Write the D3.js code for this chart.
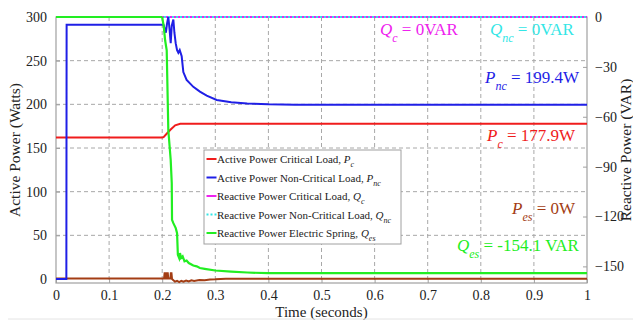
<!DOCTYPE html>
<html>
<head>
<meta charset="utf-8">
<script src="https://cdn.jsdelivr.net/npm/d3@7"></script>
<style>
  body { margin: 0; background: #fff; }
</style>
</head>
<body>
<svg id="chart" width="633" height="320"></svg>
<script>
'use strict';

// tick values
const timeTicks = [0, 0.1, 0.2, 0.3, 0.4, 0.5, 0.6, 0.7, 0.8, 0.9, 1];
const timeTickLabels = ['0', '0.1', '0.2', '0.3', '0.4', '0.5', '0.6', '0.7', '0.8', '0.9', '1'];
const wattTicks = [0, 50, 100, 150, 200, 250, 300];
const varTicks = [0, -30, -60, -90, -120, -150];

// P_c, critical load (W)
const pcTime = [0, 0.2, 0.2025, 0.208, 0.215, 0.2244, 0.234, 0.26, 0.3, 1];
const pcWatts = [162, 162, 162.5, 166, 170.6, 176, 177.7, 177.8, 177.9, 177.9];

// P_nc, non-critical load (W)
const pncTime = [0, 0.0195, 0.02, 0.2025, 0.205, 0.207, 0.209, 0.2115, 0.214, 0.216, 0.218, 0.221, 0.223, 0.2254,
  0.228, 0.2304, 0.233, 0.2367, 0.2398, 0.246, 0.2586, 0.271, 0.2838, 0.3026, 0.33, 0.36, 0.4, 0.45, 0.5, 1];
const pncWatts = [0, 0, 291, 291, 286, 282, 292, 300, 285, 270, 290, 297, 282, 270,
  262, 259, 262, 255, 237, 228, 220, 214.5, 210, 205, 202.5, 201, 200, 199.6, 199.4, 199.4];

// P_es, electric spring (W)
const pesTime = [0, 0.2, 0.2035, 0.2045, 0.206, 0.207, 0.2085, 0.2092, 0.2105, 0.2115, 0.2155, 0.2162, 0.2175, 0.2185,
  0.224, 0.228, 0.232, 0.236, 0.24, 0.245, 0.25, 0.255, 0.26, 0.27, 0.28, 0.29, 0.3, 0.32, 1];
const pesWatts = [0.5, 0.5, 0.5, 6.5, 6.5, 0.5, 0.5, 6.5, 6.5, 0.5, 0.5, 6.5, 6.5, 0,
  -3, -2, -3.5, -2, -3, -1.8, -2.8, -1.5, -2.2, -1.2, -1.5, -0.6, -0.4, 0.3, 0.3];

// Q_c and Q_nc (VAR)
const qcTime = [0, 1];
const qcVar = [0, 0];
const qncTime = [0, 1];
const qncVar = [0, 0];

// Q_es, electric spring (VAR)
const qesTime = [0, 0.2, 0.203, 0.2055, 0.2085, 0.2115, 0.216, 0.218, 0.2185, 0.221, 0.2255, 0.228, 0.2295, 0.232,
  0.2335, 0.2355, 0.2385, 0.242, 0.246, 0.25, 0.2586, 0.265, 0.271, 0.28, 0.3, 0.33, 0.36, 0.4, 0.5, 1];
const qesVar = [0, 0, -6, -14, -20, -68, -86, -100, -122, -124, -127, -130, -143, -145,
  -142, -145, -144, -147, -146.5, -148, -149.5, -150, -151, -151.5, -152.5, -153.2, -153.7, -154.1, -154.1, -154.1];

const red = '#f01c1c';
const blue = '#1f1fe6';
const magenta = '#ee22ee';
const cyan = '#33e6e6';
const green = '#22ee22';
const brown = '#a33d14';
const serif = '"Liberation Serif", "DejaVu Serif", "Times New Roman", serif';

const svg = d3.select('#chart').attr('font-family', serif);
const plotLeft = 56, plotRight = 587, plotTop = 17, plotBottom = 283;

const x = d3.scaleLinear().domain([0, 1]).range([plotLeft, plotRight]);
const yW = d3.scaleLinear().domain([0, 300]).range([279, plotTop]);
const yQ = d3.scaleLinear().domain([-160, 0]).range([plotBottom, plotTop]);

const zip = (ts, vs) => ts.map((t, i) => [t, vs[i]]);

// grid
const grid = svg.append('g').attr('stroke', '#a8a8a8').attr('stroke-dasharray', '4,3').attr('stroke-width', 1);
grid.selectAll('.vg').data(timeTicks.slice(1, -1)).enter().append('line')
  .attr('x1', d => x(d)).attr('x2', d => x(d)).attr('y1', plotTop).attr('y2', plotBottom);
grid.selectAll('.hg').data(wattTicks.slice(1, -1)).enter().append('line')
  .attr('x1', plotLeft).attr('x2', plotRight).attr('y1', d => yW(d)).attr('y2', d => yW(d));

// frame
svg.append('rect')
  .attr('x', plotLeft).attr('y', plotTop).attr('width', plotRight - plotLeft).attr('height', plotBottom - plotTop)
  .attr('fill', 'none').attr('stroke', '#a0a0a0').attr('stroke-width', 1.2);

// axes
const axisB = svg.append('g').attr('transform', `translate(0,${plotBottom})`)
  .call(d3.axisBottom(x).tickValues(timeTicks).tickFormat((d, i) => timeTickLabels[i]).tickSize(-4).tickPadding(7));
const axisL = svg.append('g').attr('transform', `translate(${plotLeft},0)`)
  .call(d3.axisLeft(yW).tickValues(wattTicks).tickSize(-4).tickPadding(9));
const axisR = svg.append('g').attr('transform', `translate(${plotRight},0)`)
  .call(d3.axisRight(yQ).tickValues(varTicks).tickSize(-4).tickPadding(8));
[axisB, axisL, axisR].forEach(a => {
  a.attr('font-family', serif).attr('font-size', 14);
  a.select('.domain').remove();
  a.selectAll('line').attr('stroke', '#a0a0a0');
  a.selectAll('text').attr('fill', '#222');
});

// axis titles
svg.append('text').attr('x', (plotLeft + plotRight) / 2).attr('y', 317).attr('text-anchor', 'middle')
  .attr('font-size', 15).attr('fill', '#222').text('Time (seconds)');
svg.append('text').attr('transform', `translate(20,${(plotTop + plotBottom) / 2}) rotate(-90)`).attr('text-anchor', 'middle')
  .attr('font-size', 15.5).attr('fill', '#222').text('Active Power (Watts)');
svg.append('text').attr('transform', `translate(631,${(plotTop + plotBottom) / 2}) rotate(-90)`).attr('text-anchor', 'middle')
  .attr('font-size', 15.5).attr('fill', '#222').text('Reactive Power (VAR)');

// series
const lineW = d3.line().x(d => x(d[0])).y(d => yW(d[1]));
const lineQ = d3.line().x(d => x(d[0])).y(d => yQ(d[1]));
const draw = (pts, gen, colour, width, dash) => svg.append('path')
  .attr('d', gen(pts)).attr('fill', 'none').attr('stroke', colour)
  .attr('stroke-width', width).attr('stroke-dasharray', dash || null);

draw(zip(pesTime, pesWatts), lineW, brown, 2);
draw(zip(qcTime, qcVar), lineQ, magenta, 2);
draw(zip(qncTime, qncVar), lineQ, cyan, 2, '2,2');
draw(zip(pcTime, pcWatts), lineW, red, 2);
draw(zip(qesTime.slice(0, 2), qesVar.slice(0, 2)), lineQ, green, 2.2);
draw(zip(pncTime, pncWatts), lineW, blue, 2);
draw(zip(qesTime.slice(1), qesVar.slice(1)), lineQ, green, 2.2);

// legend
const legendItems = [
  { name: 'Active Power Critical Load, ', sym: 'P', sub: 'c', colour: red, dash: null },
  { name: 'Active Power Non-Critical Load, ', sym: 'P', sub: 'nc', colour: blue, dash: null },
  { name: 'Reactive Power Critical Load, ', sym: 'Q', sub: 'c', colour: magenta, dash: null },
  { name: 'Reactive Power Non-Critical Load, ', sym: 'Q', sub: 'nc', colour: cyan, dash: '2,2' },
  { name: 'Reactive Power Electric Spring, ', sym: 'Q', sub: 'es', colour: green, dash: null }
];
const lg = svg.append('g').attr('transform', 'translate(204,150)');
lg.append('rect').attr('width', 197).attr('height', 94).attr('fill', '#fff')
  .attr('stroke', '#a0a0a0').attr('stroke-width', 1);
const rows = lg.selectAll('.row').data(legendItems).enter().append('g')
  .attr('transform', (d, i) => `translate(0,${9 + i * 18.5})`);
rows.append('line').attr('x1', 2.5).attr('x2', 12.5).attr('stroke', d => d.colour)
  .attr('stroke-width', 2).attr('stroke-dasharray', d => d.dash);
const rt = rows.append('text').attr('x', 13).attr('y', 4).attr('font-size', 11).attr('fill', '#222');
rt.append('tspan').text(d => d.name);
rt.append('tspan').attr('font-style', 'italic').text(d => d.sym);
rt.append('tspan').attr('font-style', 'italic').attr('font-size', 8).attr('dy', 4).text(d => d.sub);

// value annotations
const notes = [
  { x: 380, y: 35, sym: 'Q', sub: 'c', rest: ' = 0VAR', colour: magenta },
  { x: 490, y: 35, sym: 'Q', sub: 'nc', rest: ' = 0VAR', colour: cyan },
  { x: 485, y: 83, sym: 'P', sub: 'nc', rest: ' = 199.4W', colour: blue },
  { x: 487, y: 141, sym: 'P', sub: 'c', rest: ' = 177.9W', colour: red },
  { x: 512, y: 214, sym: 'P', sub: 'es', rest: ' = 0W', colour: brown },
  { x: 457, y: 251, sym: 'Q', sub: 'es', rest: ' = -154.1 VAR', colour: green }
];
notes.forEach(n => {
  const t = svg.append('text').attr('x', n.x).attr('y', n.y).attr('font-size', 17).attr('fill', n.colour);
  t.append('tspan').attr('font-style', 'italic').text(n.sym);
  t.append('tspan').attr('font-style', 'italic').attr('font-size', 12).attr('dy', 7).text(n.sub);
  t.append('tspan').attr('dy', -7).text(n.rest);
});

// faint bottom border
svg.append('line').attr('x1', 8).attr('x2', 633).attr('y1', 319).attr('y2', 319)
  .attr('stroke', '#e4e4e4').attr('stroke-width', 1);
</script>
</body>
</html>
